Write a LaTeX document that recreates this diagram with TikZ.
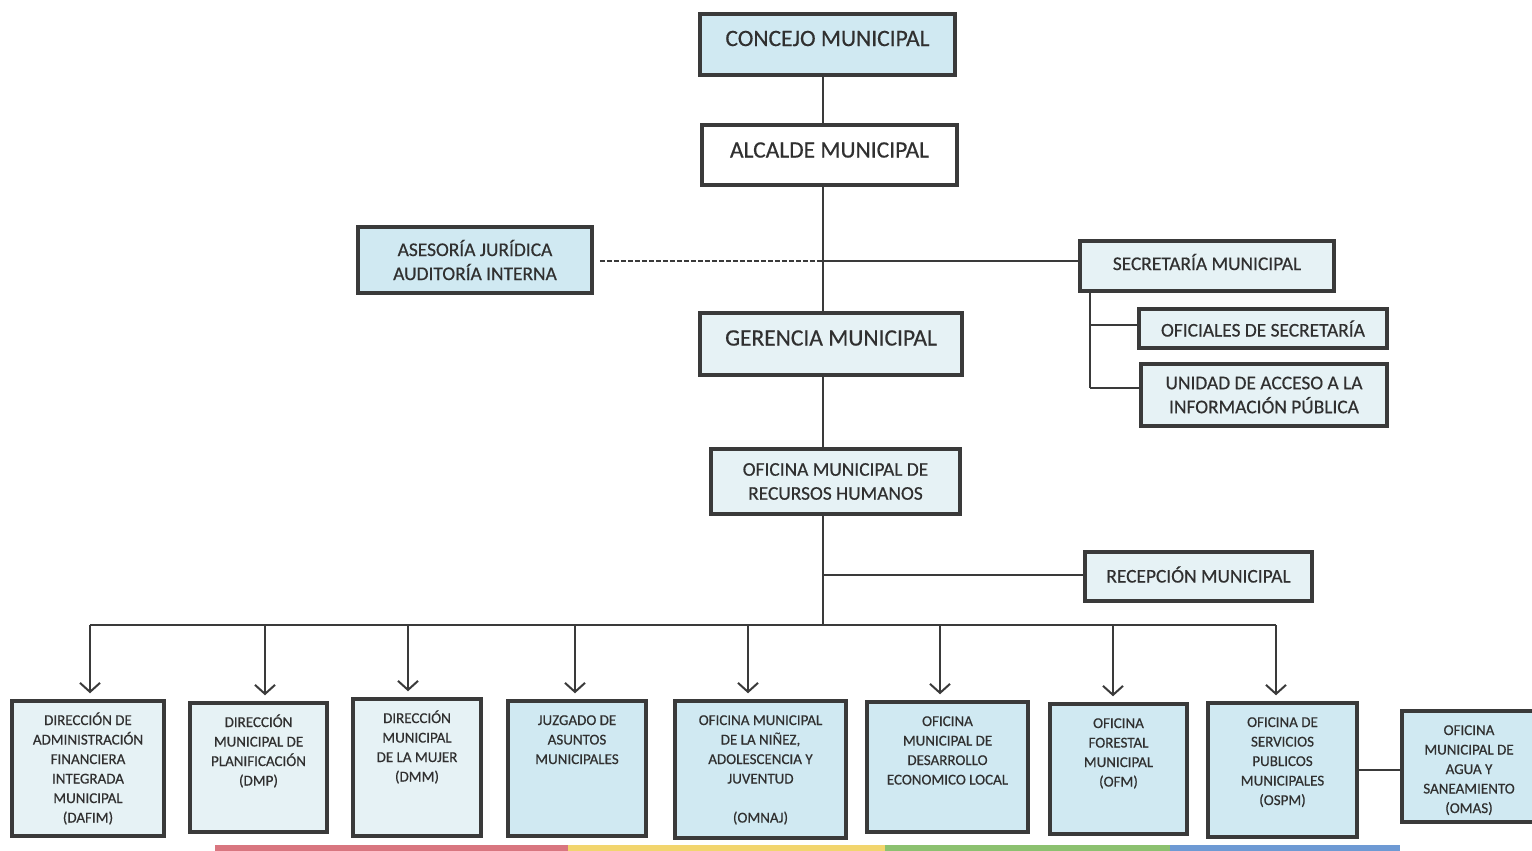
\documentclass[tikz,border=0pt]{standalone}
\usepackage{fontspec}
\setmainfont{Carlito}[FakeBold=0.5]
\usetikzlibrary{arrows.meta}
\definecolor{ink}{HTML}{303030}
\definecolor{edge}{HTML}{3A3A3A}
\definecolor{skyA}{HTML}{D0E9F2}
\definecolor{skyB}{HTML}{E6F2F5}
\definecolor{bandR}{HTML}{D97680}
\definecolor{bandY}{HTML}{F2D56E}
\definecolor{bandG}{HTML}{8CC170}
\definecolor{bandB}{HTML}{6E9AD4}
% top-aligned text block for the bottom row of units
\newcommand\unittext[3]{\parbox[t][#2pt][t]{#1pt}{\centering\rule{0pt}{24pt}#3}}
% set a title a little above the middle of its box
\newcommand\lifted[2]{\raisebox{#1}[\height][\depth]{#2}}
\begin{document}
\begin{tikzpicture}[x=1pt,y=-1pt,
  box/.style={draw=edge, line width=3.5pt, text=ink, align=center, inner sep=0pt,
              font=\fontsize{19.4}{24}\selectfont},
  bigbox/.style={box, font=\fontsize{23.5}{28}\selectfont},
  unitbox/.style={draw=edge, line width=3.5pt, text=ink, inner sep=0pt,
              font=\fontsize{15}{19.5}\selectfont},
  link/.style={draw=edge, line width=2pt},
  down/.style={link, -{Straight Barb[length=9pt,width=20pt,line width=2pt]}, shorten >=6pt}
]
\useasboundingbox (0,0) rectangle (1532,851);

% ---- upper hierarchy ----
\node[bigbox, fill=skyA, minimum width=255pt, minimum height=61pt] (concejo) at (827.5,44.5) {\lifted{6pt}{CONCEJO MUNICIPAL}};
\node[bigbox, fill=white, minimum width=255pt, minimum height=60pt] (alcalde) at (829.5,155) {\lifted{5pt}{ALCALDE MUNICIPAL}};
\node[box, fill=skyA, minimum width=234pt, minimum height=66pt] (asesoria) at (475,260) {ASESORÍA JURÍDICA\\AUDITORÍA INTERNA};
\node[box, fill=skyB, minimum width=254pt, minimum height=50pt] (secretaria) at (1207,266) {\lifted{4pt}{SECRETARÍA MUNICIPAL}};
\node[bigbox, fill=skyB, minimum width=262pt, minimum height=62pt] (gerencia) at (831,344) {\lifted{6pt}{GERENCIA MUNICIPAL}};
\node[box, fill=skyB, minimum width=248pt, minimum height=39pt] (oficiales) at (1263,328.5) {OFICIALES DE SECRETARÍA};
\node[box, fill=skyB, minimum width=246pt, minimum height=62pt] (unidad) at (1264,395) {UNIDAD DE ACCESO A LA\\INFORMACIÓN PÚBLICA};
\node[box, fill=skyB, minimum width=249pt, minimum height=65pt] (rrhh) at (835.5,481.5) {OFICINA MUNICIPAL DE\\RECURSOS HUMANOS};
\node[box, fill=skyB, minimum width=227pt, minimum height=49pt] (recepcion) at (1198.5,576.5) {\lifted{2pt}{RECEPCIÓN MUNICIPAL}};

% ---- bottom row of units ----
\node[unitbox, fill=skyB] (dafim) at (88,768.5) {\unittext{152}{135}{DIRECCIÓN DE\\ADMINISTRACIÓN\\FINANCIERA\\INTEGRADA\\MUNICIPAL\\(DAFIM)}};
\node[unitbox, fill=skyB] (dmp) at (258.5,767.5) {\unittext{137}{129}{DIRECCIÓN\\MUNICIPAL DE\\PLANIFICACIÓN\\(DMP)}};
\node[unitbox, fill=skyB] (dmm) at (417,767.5) {\unittext{128}{137}{DIRECCIÓN\\MUNICIPAL\\DE LA MUJER\\(DMM)}};
\node[unitbox, fill=skyA] (juzgado) at (577,768.5) {\unittext{138}{135}{JUZGADO DE\\ASUNTOS\\MUNICIPALES}};
\node[unitbox, fill=skyA] (omnaj) at (760.5,769.5) {\unittext{171}{137}{OFICINA MUNICIPAL\\DE LA NIÑEZ,\\ADOLESCENCIA Y\\JUVENTUD\\[19.5pt](OMNAJ)}};
\node[unitbox, fill=skyA] (desarrollo) at (947.5,767) {\unittext{161}{130}{OFICINA\\MUNICIPAL DE\\DESARROLLO\\ECONOMICO LOCAL}};
\node[unitbox, fill=skyA] (ofm) at (1118.5,769) {\unittext{137}{130}{OFICINA\\FORESTAL\\MUNICIPAL\\(OFM)}};
\node[unitbox, fill=skyA] (ospm) at (1282.5,770) {\unittext{149}{134}{OFICINA DE\\SERVICIOS\\PUBLICOS\\MUNICIPALES\\(OSPM)}};
\node[unitbox, fill=skyA] (omas) at (1469,766.5) {\unittext{134}{111}{\rule{0pt}{8pt}OFICINA\\MUNICIPAL DE\\AGUA Y\\SANEAMIENTO\\(OMAS)}};

% ---- trunk and branch points ----
\coordinate (tConcejo) at (823,0 |- concejo.south);
\coordinate (mid) at (823,261);
\coordinate (recJ) at (823,575);
\coordinate (busJ) at (823,625);
\coordinate (bus1) at (90,625);
\coordinate (bus2) at (265,625);
\coordinate (bus3) at (408,625);
\coordinate (bus4) at (575,625);
\coordinate (bus5) at (748,625);
\coordinate (bus6) at (940,625);
\coordinate (bus7) at (1113,625);
\coordinate (bus8) at (1276,625);
\coordinate (secV) at (1090,0 |- secretaria.south);
\coordinate (secO) at (1090,325);
\coordinate (secU) at (1090,388);

\draw[link] (tConcejo) -- (tConcejo |- alcalde.north);
\draw[link] (tConcejo |- alcalde.south) -- (tConcejo |- gerencia.north);
\draw[link] (tConcejo |- gerencia.south) -- (tConcejo |- rrhh.north);
\draw[link] (tConcejo |- rrhh.south) -- (busJ);

% advisory (dashed) and secretariat links
\draw[link, dashed, dash pattern=on 5pt off 2pt, shorten <=6pt] (asesoria.east |- mid) -- (mid);
\draw[link] (mid) -- (mid -| secretaria.west);
\draw[link] (secV) -- (secU);
\draw[link] (secO) -- (secO -| oficiales.west);
\draw[link] (secU) -- (secU -| unidad.west);

% reception
\draw[link] (recJ) -- (recJ -| recepcion.west);

% distribution bus and arrows
\draw[link] (bus1) -- (bus8);
\draw[down] (bus1) -- (bus1 |- dafim.north);
\draw[down] (bus2) -- (bus2 |- dmp.north);
\draw[down] (bus3) -- (bus3 |- dmm.north);
\draw[down] (bus4) -- (bus4 |- juzgado.north);
\draw[down] (bus5) -- (bus5 |- omnaj.north);
\draw[down] (bus6) -- (bus6 |- desarrollo.north);
\draw[down] (bus7) -- (bus7 |- ofm.north);
\draw[down] (bus8) -- (bus8 |- ospm.north);

% water office hangs off public services
\draw[link] (ospm.east) -- (ospm.east -| omas.west);

% coloured band along the bottom edge
\fill[bandR] (215,845) rectangle (568,852);
\fill[bandY] (568,845) rectangle (885,852);
\fill[bandG] (885,845) rectangle (1170,852);
\fill[bandB] (1170,845) rectangle (1400,852);
\end{tikzpicture}
\end{document}
